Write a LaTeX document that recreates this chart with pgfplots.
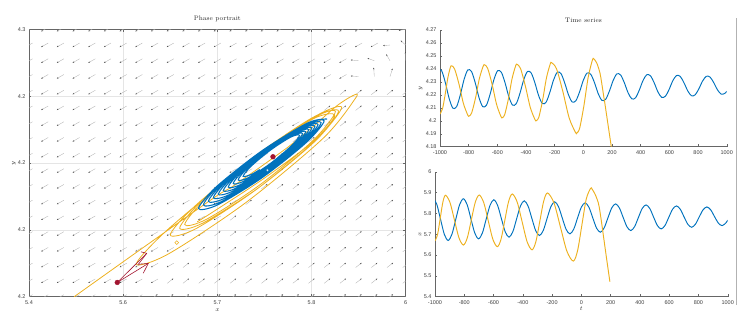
\documentclass[border=0pt]{standalone}
\usepackage{fontspec}
\usepackage{pgfplots}
\pgfplotsset{compat=1.18}
\usetikzlibrary{arrows.meta}
\newfontfamily\tickfont{Liberation Sans}
\definecolor{mblue}{HTML}{0072BD}
\definecolor{myellow}{HTML}{EDB120}
\definecolor{mred}{HTML}{A2142F}
\pgfplotsset{
  mat/.style={scale only axis, anchor=south west,
    axis line style={draw=black!60, line width=0.45pt},
    every tick/.style={draw=black!60, line width=0.4pt},
    tick align=inside, major tick length=2.2pt,
    ticklabel style={font=\tickfont\fontsize{5.5}{6.5}\selectfont, text=black!75},
    /pgf/number format/assume math mode=true,
    /pgf/number format/1000 sep={},
    scaled ticks=false,
    title style={font=\fontsize{6.5}{7.5}\selectfont, text=black!85, inner sep=1pt},
    label style={font=\fontsize{6.5}{7.5}\selectfont, text=black!85},
  },
  qdl/.style={draw=black!30, line width=0.35pt, -{Stealth[length=1.7pt,width=1.4pt,color=black!70]},
    quiver={u=-0.01115, v=-0.001346, every arrow/.append style={xshift=3.5pt,yshift=2pt}}},
  qur/.style={draw=black!30, line width=0.35pt, -{Stealth[length=1.7pt,width=1.4pt,color=black!70]},
    quiver={u=0.009557, v=0.001582, every arrow/.append style={xshift=-3pt,yshift=-2.35pt}}},
}
\begin{document}
\begin{tikzpicture}
\useasboundingbox (0pt,0pt) rectangle (744pt,321pt);

% ---------------- Phase portrait ----------------
\begin{axis}[mat, at={(29pt,24.3pt)}, width=376.7pt, height=267.4pt,
  xmin=5.4, xmax=6, ymin=4.18, ymax=4.27,
  xtick={5.4,5.55,5.7,5.85,6}, xticklabels={5.4,5.6,5.7,5.8,6},
  ytick={4.18,4.2025,4.225,4.2475,4.27}, yticklabels={4.2,4.2,4.2,4.2,4.3},
  grid=major, major grid style={draw=black!10, line width=0.4pt},
  title={Phase portrait}, title style={at={(axis description cs:0.5,1)}, anchor=south},
  xlabel={$x$}, ylabel={$y$},
  xlabel style={at={(axis description cs:0.5,-0.0497)}, anchor=center},
  ylabel style={at={(axis description cs:-0.0398,0.5)}, anchor=center},
]
% quiver field: arrows pointing down-left
\addplot[qdl] coordinates {
(5.4,4.18) (5.425,4.18) (5.45,4.18) (5.475,4.18) (5.5,4.18) (5.525,4.18) (5.55,4.18) (5.575,4.18)
(5.4,4.1853) (5.425,4.1853) (5.45,4.1853) (5.475,4.1853) (5.5,4.1853) (5.525,4.1853) (5.55,4.1853) (5.575,4.1853) (5.6,4.1853)
(5.4,4.1906) (5.425,4.1906) (5.45,4.1906) (5.475,4.1906) (5.5,4.1906) (5.525,4.1906) (5.55,4.1906) (5.575,4.1906) (5.6,4.1906) (5.625,4.1906)
(5.4,4.1959) (5.425,4.1959) (5.45,4.1959) (5.475,4.1959) (5.5,4.1959) (5.525,4.1959) (5.55,4.1959) (5.575,4.1959) (5.6,4.1959) (5.625,4.1959) (5.65,4.1959)
(5.4,4.2012) (5.425,4.2012) (5.45,4.2012) (5.475,4.2012) (5.5,4.2012) (5.525,4.2012) (5.55,4.2012) (5.575,4.2012) (5.6,4.2012) (5.625,4.2012) (5.65,4.2012) (5.675,4.2012)
(5.4,4.2065) (5.425,4.2065) (5.45,4.2065) (5.475,4.2065) (5.5,4.2065) (5.525,4.2065) (5.55,4.2065) (5.575,4.2065) (5.6,4.2065) (5.625,4.2065) (5.65,4.2065) (5.675,4.2065) (5.7,4.2065)
(5.4,4.2118) (5.425,4.2118) (5.45,4.2118) (5.475,4.2118) (5.5,4.2118) (5.525,4.2118) (5.55,4.2118) (5.575,4.2118) (5.6,4.2118) (5.625,4.2118) (5.65,4.2118) (5.675,4.2118) (5.7,4.2118) (5.725,4.2118)
(5.4,4.2171) (5.425,4.2171) (5.45,4.2171) (5.475,4.2171) (5.5,4.2171) (5.525,4.2171) (5.55,4.2171) (5.575,4.2171) (5.6,4.2171) (5.625,4.2171) (5.65,4.2171) (5.675,4.2171) (5.7,4.2171) (5.725,4.2171)
(5.4,4.2224) (5.425,4.2224) (5.45,4.2224) (5.475,4.2224) (5.5,4.2224) (5.525,4.2224) (5.55,4.2224) (5.575,4.2224) (5.6,4.2224) (5.625,4.2224) (5.65,4.2224) (5.675,4.2224) (5.7,4.2224) (5.725,4.2224) (5.75,4.2224)
(5.4,4.2276) (5.425,4.2276) (5.45,4.2276) (5.475,4.2276) (5.5,4.2276) (5.525,4.2276) (5.55,4.2276) (5.575,4.2276) (5.6,4.2276) (5.625,4.2276) (5.65,4.2276) (5.675,4.2276) (5.7,4.2276) (5.725,4.2276) (5.75,4.2276) (5.775,4.2276)
(5.4,4.2329) (5.425,4.2329) (5.45,4.2329) (5.475,4.2329) (5.5,4.2329) (5.525,4.2329) (5.55,4.2329) (5.575,4.2329) (5.6,4.2329) (5.625,4.2329) (5.65,4.2329) (5.675,4.2329) (5.7,4.2329) (5.725,4.2329) (5.75,4.2329) (5.775,4.2329) (5.8,4.2329)
(5.4,4.2382) (5.425,4.2382) (5.45,4.2382) (5.475,4.2382) (5.5,4.2382) (5.525,4.2382) (5.55,4.2382) (5.575,4.2382) (5.6,4.2382) (5.625,4.2382) (5.65,4.2382) (5.675,4.2382) (5.7,4.2382) (5.725,4.2382) (5.75,4.2382) (5.775,4.2382) (5.8,4.2382) (5.825,4.2382)
(5.4,4.2435) (5.425,4.2435) (5.45,4.2435) (5.475,4.2435) (5.5,4.2435) (5.525,4.2435) (5.55,4.2435) (5.575,4.2435) (5.6,4.2435) (5.625,4.2435) (5.65,4.2435) (5.675,4.2435) (5.7,4.2435) (5.725,4.2435) (5.75,4.2435) (5.775,4.2435) (5.8,4.2435) (5.825,4.2435) (5.85,4.2435)
(5.4,4.2488) (5.425,4.2488) (5.45,4.2488) (5.475,4.2488) (5.5,4.2488) (5.525,4.2488) (5.55,4.2488) (5.575,4.2488) (5.6,4.2488) (5.625,4.2488) (5.65,4.2488) (5.675,4.2488) (5.7,4.2488) (5.725,4.2488) (5.75,4.2488) (5.775,4.2488) (5.8,4.2488) (5.825,4.2488) (5.85,4.2488) (5.875,4.2488)
(5.4,4.2541) (5.425,4.2541) (5.45,4.2541) (5.475,4.2541) (5.5,4.2541) (5.525,4.2541) (5.55,4.2541) (5.575,4.2541) (5.6,4.2541) (5.625,4.2541) (5.65,4.2541) (5.675,4.2541) (5.7,4.2541) (5.725,4.2541) (5.75,4.2541) (5.775,4.2541) (5.8,4.2541) (5.825,4.2541) (5.85,4.2541) (5.875,4.2541) (5.9,4.2541)
(5.4,4.2594) (5.425,4.2594) (5.45,4.2594) (5.475,4.2594) (5.5,4.2594) (5.525,4.2594) (5.55,4.2594) (5.575,4.2594) (5.6,4.2594) (5.625,4.2594) (5.65,4.2594) (5.675,4.2594) (5.7,4.2594) (5.725,4.2594) (5.75,4.2594) (5.775,4.2594) (5.8,4.2594) (5.825,4.2594) (5.85,4.2594) (5.875,4.2594) (5.9,4.2594)
(5.4,4.2647) (5.425,4.2647) (5.45,4.2647) (5.475,4.2647) (5.5,4.2647) (5.525,4.2647) (5.55,4.2647) (5.575,4.2647) (5.6,4.2647) (5.625,4.2647) (5.65,4.2647) (5.675,4.2647) (5.7,4.2647) (5.725,4.2647) (5.75,4.2647) (5.775,4.2647) (5.8,4.2647) (5.825,4.2647) (5.85,4.2647) (5.875,4.2647) (5.9,4.2647) (5.925,4.2647) (5.95,4.2647)
(5.4,4.27) (5.425,4.27) (5.45,4.27) (5.475,4.27) (5.5,4.27) (5.525,4.27) (5.55,4.27) (5.575,4.27) (5.6,4.27) (5.625,4.27) (5.65,4.27) (5.675,4.27) (5.7,4.27) (5.725,4.27) (5.75,4.27) (5.775,4.27) (5.8,4.27) (5.825,4.27) (5.85,4.27) (5.875,4.27) (5.9,4.27) (5.925,4.27) (5.95,4.27) (5.975,4.27)
};
% quiver field: arrows pointing up-right
\addplot[qur] coordinates {
(5.6,4.18) (5.625,4.18) (5.65,4.18) (5.675,4.18) (5.7,4.18) (5.725,4.18) (5.75,4.18) (5.775,4.18) (5.8,4.18) (5.825,4.18) (5.85,4.18) (5.875,4.18) (5.9,4.18) (5.925,4.18) (5.95,4.18) (5.975,4.18) (6,4.18)
(5.625,4.1853) (5.65,4.1853) (5.675,4.1853) (5.7,4.1853) (5.725,4.1853) (5.75,4.1853) (5.775,4.1853) (5.8,4.1853) (5.825,4.1853) (5.85,4.1853) (5.875,4.1853) (5.9,4.1853) (5.925,4.1853) (5.95,4.1853) (5.975,4.1853) (6,4.1853)
(5.65,4.1906) (5.675,4.1906) (5.7,4.1906) (5.725,4.1906) (5.75,4.1906) (5.775,4.1906) (5.8,4.1906) (5.825,4.1906) (5.85,4.1906) (5.875,4.1906) (5.9,4.1906) (5.925,4.1906) (5.95,4.1906) (5.975,4.1906) (6,4.1906)
(5.675,4.1959) (5.7,4.1959) (5.725,4.1959) (5.75,4.1959) (5.775,4.1959) (5.8,4.1959) (5.825,4.1959) (5.85,4.1959) (5.875,4.1959) (5.9,4.1959) (5.925,4.1959) (5.95,4.1959) (5.975,4.1959) (6,4.1959)
(5.7,4.2012) (5.725,4.2012) (5.75,4.2012) (5.775,4.2012) (5.8,4.2012) (5.825,4.2012) (5.85,4.2012) (5.875,4.2012) (5.9,4.2012) (5.925,4.2012) (5.95,4.2012) (5.975,4.2012) (6,4.2012)
(5.725,4.2065) (5.75,4.2065) (5.775,4.2065) (5.8,4.2065) (5.825,4.2065) (5.85,4.2065) (5.875,4.2065) (5.9,4.2065) (5.925,4.2065) (5.95,4.2065) (5.975,4.2065) (6,4.2065)
(5.75,4.2118) (5.775,4.2118) (5.8,4.2118) (5.825,4.2118) (5.85,4.2118) (5.875,4.2118) (5.9,4.2118) (5.925,4.2118) (5.95,4.2118) (5.975,4.2118) (6,4.2118)
(5.75,4.2171) (5.775,4.2171) (5.8,4.2171) (5.825,4.2171) (5.85,4.2171) (5.875,4.2171) (5.9,4.2171) (5.925,4.2171) (5.95,4.2171) (5.975,4.2171) (6,4.2171)
(5.775,4.2224) (5.8,4.2224) (5.825,4.2224) (5.85,4.2224) (5.875,4.2224) (5.9,4.2224) (5.925,4.2224) (5.95,4.2224) (5.975,4.2224) (6,4.2224)
(5.8,4.2276) (5.825,4.2276) (5.85,4.2276) (5.875,4.2276) (5.9,4.2276) (5.925,4.2276) (5.95,4.2276) (5.975,4.2276) (6,4.2276)
(5.825,4.2329) (5.85,4.2329) (5.875,4.2329) (5.9,4.2329) (5.925,4.2329) (5.95,4.2329) (5.975,4.2329) (6,4.2329)
(5.85,4.2382) (5.875,4.2382) (5.9,4.2382) (5.925,4.2382) (5.95,4.2382) (5.975,4.2382) (6,4.2382)
(5.875,4.2435) (5.9,4.2435) (5.925,4.2435) (5.95,4.2435) (5.975,4.2435) (6,4.2435)
(5.9,4.2488) (5.925,4.2488) (5.95,4.2488) (5.975,4.2488) (6,4.2488)
};
% quiver field: turning arrows in the upper right corner
\addplot[draw=black!30, line width=0.35pt, -{Stealth[length=1.7pt,width=1.4pt,color=black!70]},
  quiver={u=\thisrow{u}, v=\thisrow{v}}] table {
x y u v
5.925 4.2541 -0.0125 0.0002
5.95 4.2541 -0.0010 0.0030
5.975 4.2541 0.0040 0.0027
6 4.2541 0.0070 0.0022
5.925 4.2594 -0.0125 0.0003
5.95 4.2594 -0.0110 0.0009
5.975 4.2594 -0.0060 0.0022
6 4.2594 -0.0005 0.0030
5.975 4.2647 -0.0110 -0.0002
6 4.2647 -0.0080 0.0015
6 4.27 -0.0110 -0.0004
};
% yellow trajectory
\addplot[myellow, line width=0.8pt, smooth] coordinates {
(5.668,4.2052) (5.7001,4.2095) (5.7775,4.2203) (5.8549,4.2327) (5.8870,4.2411) (5.8520,4.2398)
(5.7675,4.2280) (5.6830,4.2133) (5.6480,4.2043) (5.6831,4.2061) (5.7680,4.2177) (5.8529,4.2327)
(5.8880,4.2423) (5.8517,4.2403) (5.7640,4.2279) (5.6763,4.2125) (5.6400,4.2031) (5.6770,4.2048)
(5.7665,4.2168) (5.8560,4.2324) (5.8930,4.2425) (5.8538,4.2403) (5.7590,4.2268) (5.6642,4.2105)
(5.6250,4.2008) (5.6650,4.2028) (5.7615,4.2160) (5.8580,4.2330) (5.8980,4.2438) (5.8501,4.2400)
(5.7345,4.2225) (5.6189,4.2022) (5.5710,4.1910) (5.6221,4.1944) (5.7455,4.2117) (5.8689,4.2334)
(5.9200,4.2468) (5.9170,4.2478) (5.8900,4.2442) (5.8500,4.2368) (5.8090,4.2298) (5.7270,4.2175)
(5.6960,4.2135) (5.5850,4.1970) (5.4720,4.1800)
};
% blue trajectory
\addplot[mblue, line width=1.05pt, smooth] coordinates {
(5.8750,4.2398) (5.8440,4.2385) (5.7709,4.2291) (5.6989,4.2171) (5.6700,4.2097) (5.7004,4.2109) (5.7716,4.2201) (5.8417,4.2319)
(5.8701,4.2392) (5.8410,4.2380) (5.7724,4.2292) (5.7050,4.2179) (5.6779,4.2109) (5.7064,4.2120) (5.7731,4.2207) (5.8387,4.2317)
(5.8652,4.2386) (5.8380,4.2374) (5.7739,4.2292) (5.7110,4.2186) (5.6858,4.2121) (5.7124,4.2132) (5.7746,4.2213) (5.8357,4.2316)
(5.8603,4.2380) (5.8349,4.2369) (5.7754,4.2292) (5.7170,4.2194) (5.6937,4.2133) (5.7184,4.2143) (5.7761,4.2218) (5.8326,4.2314)
(5.8554,4.2374) (5.8319,4.2364) (5.7769,4.2292) (5.7230,4.2201) (5.7016,4.2145) (5.7245,4.2155) (5.7776,4.2224) (5.8296,4.2313)
(5.8505,4.2368) (5.8289,4.2358) (5.7784,4.2293) (5.7291,4.2208) (5.7095,4.2157) (5.7305,4.2166) (5.7791,4.2230) (5.8266,4.2311)
(5.8456,4.2362) (5.8259,4.2353) (5.7799,4.2293) (5.7351,4.2216) (5.7174,4.2169) (5.7365,4.2177) (5.7806,4.2236) (5.8236,4.2310)
(5.8407,4.2355) (5.8228,4.2347) (5.7814,4.2293) (5.7411,4.2223) (5.7253,4.2181) (5.7425,4.2189) (5.7821,4.2241) (5.8205,4.2309)
(5.8358,4.2349) (5.8198,4.2342) (5.7829,4.2293) (5.7471,4.2231) (5.7332,4.2193) (5.7486,4.2200) (5.7836,4.2247) (5.8175,4.2307)
(5.8309,4.2343) (5.8168,4.2337) (5.7844,4.2293) (5.7532,4.2238) (5.7411,4.2205) (5.7546,4.2212) (5.7676,4.2228)
};
% red zigzag
\addplot[mred, line width=0.6pt] coordinates {(5.5406,4.1848) (5.5875,4.1946)};
\addplot[mred, line width=0.6pt] coordinates {(5.5784,4.1951) (5.5875,4.1946) (5.5741,4.1909) (5.5900,4.1912) (5.5820,4.1879)};
\addplot[mred, line width=0.6pt] coordinates {(5.5406,4.1848) (5.5900,4.1912)};
% markers
\addplot[only marks, mark=*, mark size=1.9pt, mark options={draw=myellow, fill=white, line width=0.5pt}] coordinates {(5.6353,4.1982)};
\addplot[only marks, mark=*, mark size=1.3pt, mark options={draw=mblue, fill=white, line width=0.3pt}] coordinates {(5.7796,4.2226)};
\addplot[only marks, mark=*, mark size=2.4pt, mark options={draw=mred, fill=mred}] coordinates {(5.7886,4.2271) (5.5406,4.1848)};
\end{axis}

% ---------------- Time series: y ----------------
\begin{axis}[mat, at={(440pt,174.3pt)}, width=286.7pt, height=116.7pt,
  axis x line*=bottom, axis y line*=left,
  xmin=-1000, xmax=1000, ymin=4.18, ymax=4.27,
  xtick={-1000,-800,-600,-400,-200,0,200,400,600,800,1000},
  ytick={4.18,4.19,4.2,4.21,4.22,4.23,4.24,4.25,4.26,4.27},
  yticklabel style={/pgf/number format/fixed, /pgf/number format/precision=2},
  title={Time series}, title style={at={(axis description cs:0.5,1)}, anchor=south, yshift=0.5pt},
  ylabel={$y$}, ylabel style={at={(axis description cs:-0.0673,0.5)}, anchor=center},
]
\addplot[mblue, line width=0.95pt, smooth] coordinates {
(-1014,4.2398) (-988,4.2385) (-962,4.2291) (-936,4.2171) (-910,4.2097) (-884,4.2109) (-858,4.2201) (-832,4.2319)
(-806,4.2392) (-780,4.2380) (-754,4.2292) (-728,4.2179) (-702,4.2109) (-676,4.2120) (-650,4.2207) (-624,4.2317)
(-598,4.2386) (-572,4.2374) (-546,4.2292) (-520,4.2186) (-494,4.2121) (-468,4.2132) (-442,4.2213) (-416,4.2316)
(-390,4.2380) (-364,4.2369) (-338,4.2292) (-312,4.2194) (-286,4.2133) (-260,4.2143) (-234,4.2218) (-208,4.2314)
(-182,4.2374) (-156,4.2364) (-130,4.2292) (-104,4.2201) (-78,4.2145) (-52,4.2155) (-26,4.2224) (0,4.2313)
(26,4.2368) (52,4.2358) (78,4.2293) (104,4.2208) (130,4.2157) (156,4.2166) (182,4.2230) (208,4.2311)
(234,4.2362) (260,4.2353) (286,4.2293) (312,4.2216) (338,4.2169) (364,4.2177) (390,4.2236) (416,4.2310)
(442,4.2355) (468,4.2347) (494,4.2293) (520,4.2223) (546,4.2181) (572,4.2189) (598,4.2241) (624,4.2309)
(650,4.2349) (676,4.2342) (702,4.2293) (728,4.2231) (754,4.2193) (780,4.2200) (806,4.2247) (832,4.2307)
(858,4.2343) (884,4.2337) (910,4.2293) (936,4.2238) (962,4.2205) (988,4.2212) (1000,4.2228)
};
\addplot[myellow, line width=0.95pt, smooth] coordinates {
(-1000,4.2052) (-982,4.2095) (-964,4.2203) (-946,4.2327) (-928,4.2411) (-918,4.2424) (-897.5,4.2398)
(-867,4.2280) (-836.5,4.2133) (-806,4.2043) (-796,4.2037) (-779,4.2061) (-752,4.2177) (-725,4.2327)
(-698,4.2423) (-688,4.2431) (-667,4.2403) (-636,4.2279) (-605,4.2125) (-574,4.2031) (-564,4.2025)
(-548.5,4.2048) (-523,4.2168) (-497.5,4.2324) (-472,4.2425) (-462,4.2435) (-438.25,4.2403) (-404.5,4.2268)
(-370.75,4.2105) (-337,4.2008) (-327,4.2002) (-310.5,4.2028) (-284,4.2160) (-257.5,4.2330) (-231,4.2438)
(-221,4.2448) (-187,4.2400) (-143,4.2225) (-99,4.2022) (-55,4.1910) (-45,4.1906) (-25.5,4.1944)
(4,4.2117) (33.5,4.2334) (63,4.2468) (73,4.2478) (95,4.2442) (116,4.2368) (127,4.2298)
(144,4.2175) (150,4.2135) (172,4.1970) (195,4.1800)
};
\end{axis}

% ---------------- Time series: x ----------------
\begin{axis}[mat, at={(435pt,24.3pt)}, width=292.7pt, height=125pt,
  axis x line*=bottom, axis y line*=left,
  xmin=-1000, xmax=1000, ymin=5.4, ymax=6,
  xtick={-1000,-800,-600,-400,-200,0,200,400,600,800,1000},
  ytick={5.4,5.5,5.6,5.7,5.8,5.9,6},
  xlabel={$t$}, ylabel={$x$},
  xlabel style={at={(axis description cs:0.5,-0.0984)}, anchor=center},
  ylabel style={at={(axis description cs:-0.0512,0.5)}, anchor=center},
]
\addplot[mblue, line width=0.95pt, smooth] coordinates {
(-1014,5.8750) (-988,5.8440) (-962,5.7709) (-936,5.6989) (-910,5.6700) (-884,5.7004) (-858,5.7716) (-832,5.8417)
(-806,5.8701) (-780,5.8410) (-754,5.7724) (-728,5.7050) (-702,5.6779) (-676,5.7064) (-650,5.7731) (-624,5.8387)
(-598,5.8652) (-572,5.8380) (-546,5.7739) (-520,5.7110) (-494,5.6858) (-468,5.7124) (-442,5.7746) (-416,5.8357)
(-390,5.8603) (-364,5.8349) (-338,5.7754) (-312,5.7170) (-286,5.6937) (-260,5.7184) (-234,5.7761) (-208,5.8326)
(-182,5.8554) (-156,5.8319) (-130,5.7769) (-104,5.7230) (-78,5.7016) (-52,5.7245) (-26,5.7776) (0,5.8296)
(26,5.8505) (52,5.8289) (78,5.7784) (104,5.7291) (130,5.7095) (156,5.7305) (182,5.7791) (208,5.8266)
(234,5.8456) (260,5.8259) (286,5.7799) (312,5.7351) (338,5.7174) (364,5.7365) (390,5.7806) (416,5.8236)
(442,5.8407) (468,5.8228) (494,5.7814) (520,5.7411) (546,5.7253) (572,5.7425) (598,5.7821) (624,5.8205)
(650,5.8358) (676,5.8198) (702,5.7829) (728,5.7471) (754,5.7332) (780,5.7486) (806,5.7836) (832,5.8175)
(858,5.8309) (884,5.8168) (910,5.7844) (936,5.7532) (962,5.7411) (988,5.7546) (1000,5.7676)
};
\addplot[myellow, line width=0.95pt, smooth] coordinates {
(-1000,5.668) (-982,5.7001) (-964,5.7775) (-946,5.8549) (-928,5.8870) (-897.5,5.8520)
(-867,5.7675) (-836.5,5.6830) (-806,5.6480) (-779,5.6831) (-752,5.7680) (-725,5.8529)
(-698,5.8880) (-667,5.8517) (-636,5.7640) (-605,5.6763) (-574,5.6400) (-548.5,5.6770)
(-523,5.7665) (-497.5,5.8560) (-472,5.8930) (-438.25,5.8538) (-404.5,5.7590) (-370.75,5.6642)
(-337,5.6250) (-310.5,5.6650) (-284,5.7615) (-257.5,5.8580) (-231,5.8980) (-187,5.8501)
(-143,5.7345) (-99,5.6189) (-55,5.5710) (-25.5,5.6221) (4,5.7455) (33.5,5.8689)
(63,5.9200) (73,5.9170) (95,5.8900) (116,5.8500) (127,5.8090) (144,5.7270)
(150,5.6960) (172,5.5850) (195,5.4720)
};
\end{axis}

\draw[black!30, line width=0.5pt] (736.7pt,16pt) -- (736.7pt,303pt);
\end{tikzpicture}
\end{document}
